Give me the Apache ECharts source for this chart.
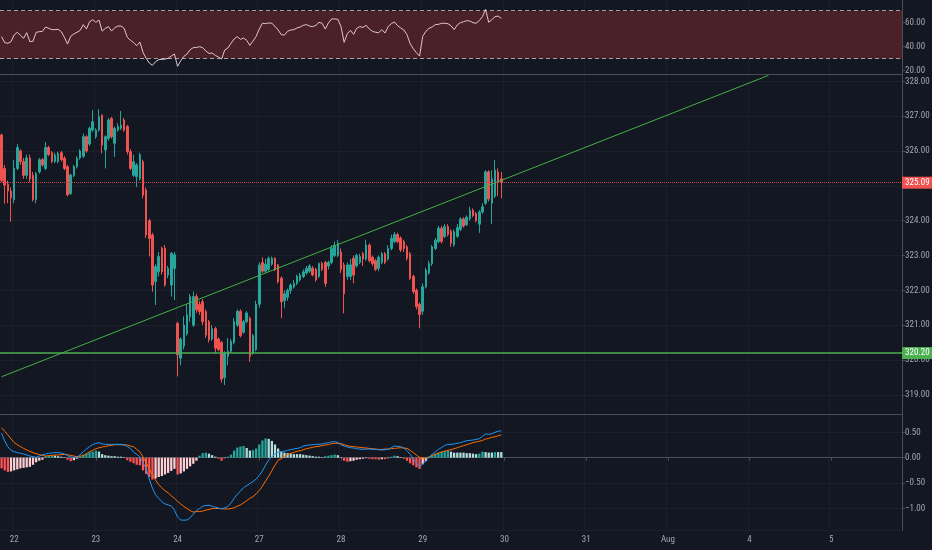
<!DOCTYPE html>
<html><head><meta charset="utf-8">
<script src="https://cdn.jsdelivr.net/npm/echarts@6/dist/echarts.min.js"></script>
<style>html,body{margin:0;padding:0;background:#131722}#c{width:932px;height:550px}</style>
</head><body><div id="c"></div>
<script>
// ---------- DATA ----------
const SLOT_COUNT = 287;
const dayStarts = [4, 30, 56, 82, 108, 134, 160, 186, 212, 238, 264];
const dayLabels = ['22', '23', '24', '27', '28', '29', '30', '31', 'Aug', '4', '5'];

const opens = [
326.46,325.50,325.05,324.85,324.60,325.50,326.00,325.70,325.30,325.80,
325.30,324.60,325.40,325.75,325.50,326.10,325.95,325.70,325.70,325.95,
325.79,325.55,324.78,325.30,325.55,325.80,325.85,326.41,326.20,326.60,
326.41,326.60,327.03,326.03,326.36,326.93,326.22,326.60,326.65,326.89,
326.70,325.98,325.30,325.26,325.20,325.69,324.88,324.00,323.59,322.25,
322.53,323.21,323.21,322.44,322.15,322.63,321.05,320.05,320.40,320.75,
321.24,321.00,321.82,321.60,321.67,321.39,321.10,320.60,320.90,320.60,
320.50,319.50,320.10,320.25,320.50,321.00,321.40,320.80,321.10,321.20,
320.20,320.30,321.60,322.80,322.55,322.60,322.75,322.92,322.73,322.35,
321.70,321.80,322.00,322.10,322.20,322.30,322.40,322.50,322.55,322.63,
322.60,322.40,322.77,322.80,322.70,322.80,323.00,323.00,323.10,322.73,
322.40,322.40,322.92,322.70,322.80,323.05,322.90,323.30,322.95,322.85,
322.63,322.80,323.05,322.90,323.20,323.40,323.60,323.50,323.40,323.25,
323.05,322.40,322.00,321.60,321.40,322.10,322.50,322.77,323.20,323.40,
323.78,323.54,323.83,323.70,323.30,323.55,323.75,324.05,323.88,324.05,
324.30,324.20,323.90,324.25,324.50,325.40,324.50,324.70,325.40,325.20];
const closes = [
325.15,325.02,324.85,324.65,325.50,326.10,325.70,325.30,325.80,325.20,
324.60,325.35,325.75,325.60,326.10,325.90,325.70,325.88,325.93,325.75,
325.50,324.74,325.31,325.55,325.79,326.00,326.41,326.00,326.65,326.84,
326.60,326.98,326.17,326.41,326.89,326.41,326.65,326.70,326.74,326.60,
325.98,325.50,325.69,325.60,325.89,324.73,323.59,323.49,322.15,322.68,
322.97,322.53,322.15,322.63,323.06,323.02,320.15,320.60,321.00,321.30,
321.82,321.82,321.44,321.39,321.10,320.72,320.58,320.90,320.34,320.30,
319.45,320.20,320.25,320.53,321.10,321.40,320.70,321.10,321.35,320.10,
320.70,321.60,322.73,322.55,322.75,322.92,322.92,322.60,322.25,321.67,
321.90,322.00,322.15,322.20,322.40,322.44,322.53,322.63,322.70,322.44,
322.30,322.77,322.60,322.20,322.80,323.20,323.30,323.35,322.60,321.90,
322.73,322.73,322.44,323.00,322.97,322.90,323.30,322.85,322.77,322.60,
322.95,323.05,322.80,323.20,323.49,323.60,323.40,323.16,323.20,322.92,
322.34,321.96,321.53,321.30,322.10,322.58,322.77,323.25,323.44,323.78,
323.40,323.83,323.60,323.35,323.68,323.80,324.05,323.85,324.10,324.30,
324.15,324.00,324.25,324.40,325.40,324.62,325.20,325.45,325.10,325.09];
const lows = [
325.10,324.49,324.50,323.97,324.50,325.45,325.60,325.20,325.20,325.10,
324.55,324.50,325.35,325.55,325.45,325.85,325.65,325.65,325.65,325.70,
325.45,324.70,324.74,325.25,325.50,325.75,325.80,325.95,326.15,326.55,
326.35,326.55,325.93,325.50,326.30,326.36,325.83,326.55,326.60,326.55,
325.90,325.45,325.26,324.97,325.15,324.64,323.50,322.97,321.96,321.58,
322.40,322.45,322.10,322.35,321.82,321.72,319.53,319.85,320.30,320.70,
321.10,320.95,321.35,321.30,321.00,320.63,320.50,320.55,320.20,320.25,
319.35,319.28,319.85,320.20,320.45,320.95,320.65,320.75,321.05,319.95,
320.15,320.25,321.50,322.50,322.50,322.55,322.70,322.55,322.20,321.20,
321.50,321.70,321.90,322.05,322.15,322.25,322.35,322.45,322.50,322.40,
322.25,322.35,322.55,322.10,322.60,322.75,322.95,322.95,322.50,321.34,
322.30,322.30,322.20,322.65,322.75,322.70,322.85,322.80,322.70,322.55,
322.55,322.75,322.75,322.85,323.15,323.35,323.35,323.10,323.10,322.85,
322.30,321.90,321.45,320.91,321.30,322.05,322.45,322.70,323.15,323.35,
323.35,323.50,323.55,323.25,323.25,323.50,323.70,323.80,323.85,324.00,
324.10,323.95,323.65,324.20,324.45,324.55,323.90,324.65,324.70,324.64];
const highs = [
326.50,325.60,325.15,324.95,325.74,326.20,326.05,325.80,325.90,325.90,
325.40,325.40,325.80,325.80,326.26,326.15,326.00,325.95,325.98,326.00,
325.85,325.60,325.35,325.60,325.85,326.05,326.50,326.45,326.70,327.17,
326.65,327.20,327.05,326.45,326.95,326.98,326.70,326.80,327.15,326.95,
326.75,326.05,325.89,325.65,325.95,325.75,324.95,324.05,323.65,322.75,
323.10,323.25,323.30,322.70,323.10,323.10,321.10,320.65,321.25,321.60,
321.90,321.96,321.90,321.70,321.75,321.45,321.15,321.00,320.95,320.65,
320.55,320.25,320.63,320.60,321.20,321.45,321.45,321.15,321.40,321.25,
320.75,321.70,322.80,322.95,322.90,322.97,322.97,322.95,322.75,322.40,
322.00,322.05,322.20,322.30,322.45,322.50,322.60,322.70,322.75,322.70,
322.65,322.80,322.82,322.85,322.85,323.30,323.40,323.45,323.20,322.80,
322.80,322.90,323.00,323.05,323.05,323.10,323.45,323.35,323.00,322.90,
323.00,323.10,323.10,323.30,323.60,323.68,323.65,323.55,323.45,323.30,
323.10,322.45,322.05,321.65,322.20,322.65,322.85,323.30,323.50,323.85,
323.85,323.90,323.90,323.75,323.75,323.90,324.10,324.10,324.15,324.40,
324.35,324.25,324.30,324.50,325.45,325.45,325.45,325.74,325.50,325.40];

const rsi = [
48.4,43.4,42.8,44.2,49.8,52.0,49.5,47.0,51.7,44.2,
44.5,52.0,52.5,52.8,56.4,55.3,54.2,54.2,54.5,52.5,
47.8,42.2,48.6,50.6,52.0,53.6,58.4,54.7,60.8,62.5,
60.3,62.2,53.0,55.3,56.7,53.0,55.8,57.2,57.2,55.3,
47.8,45.3,43.4,40.8,43.9,35.3,30.3,26.4,24.5,27.5,
29.2,29.4,29.7,30.3,32.2,33.9,23.6,28.3,31.9,33.9,
37.5,39.2,39.4,40.0,39.2,36.4,34.4,34.7,32.8,31.4,
29.7,37.2,38.9,42.8,46.4,48.4,46.1,47.2,45.3,41.1,
44.7,48.6,54.7,59.5,59.2,59.8,59.5,57.0,53.9,50.0,
49.7,52.8,53.9,54.2,55.6,56.4,57.8,58.4,57.2,56.7,
57.8,60.3,59.5,54.7,59.8,63.1,63.1,62.8,56.7,43.6,
50.8,53.6,50.3,55.3,56.7,56.1,57.8,54.7,52.8,52.0,
51.7,54.2,51.4,56.7,59.2,60.6,57.5,55.6,53.9,50.0,
42.5,38.3,35.0,32.2,48.6,52.8,55.3,56.4,58.4,58.6,
59.5,59.5,59.2,57.5,54.2,58.1,60.0,60.8,61.7,61.4,
60.0,59.5,61.7,65.0,71.0,60.3,62.5,65.0,65.5,63.6];

const macd = [
0.48,0.33,0.217,0.145,0.118,0.10,0.086,0.073,0.053,0.033,
0.02,0.007,0.033,0.06,0.073,0.086,0.092,0.10,0.10,0.092,
0.073,0.04,0.013,0.007,0.007,0.06,0.118,0.17,0.22,0.256,
0.283,0.296,0.27,0.263,0.263,0.263,0.263,0.263,0.263,0.256,
0.22,0.18,0.11,0.066,0.02,-0.10,-0.22,-0.42,-0.60,-0.73,
-0.80,-0.865,-0.91,-0.93,-0.95,-1.03,-1.17,-1.226,-1.23,-1.226,
-1.18,-1.11,-1.04,-1.0,-0.955,-0.94,-0.935,-0.955,-0.975,-0.99,
-1.01,-0.985,-0.96,-0.89,-0.80,-0.72,-0.66,-0.59,-0.55,-0.51,
-0.47,-0.42,-0.35,-0.26,-0.145,-0.045,0.02,0.073,0.105,0.118,
0.13,0.145,0.16,0.17,0.183,0.196,0.23,0.243,0.25,0.256,
0.263,0.263,0.27,0.283,0.296,0.31,0.316,0.30,0.256,0.23,
0.21,0.196,0.19,0.177,0.17,0.163,0.17,0.17,0.163,0.163,
0.157,0.15,0.157,0.163,0.196,0.23,0.223,0.217,0.19,0.137,
0.066,-0.02,-0.105,-0.18,-0.125,-0.06,0.007,0.066,0.118,0.163,
0.20,0.243,0.263,0.263,0.27,0.283,0.296,0.316,0.335,0.34,
0.348,0.36,0.374,0.42,0.466,0.46,0.47,0.50,0.52,0.53];
const signal = [
0.59,0.52,0.45,0.37,0.30,0.256,0.217,0.183,0.152,0.125,
0.098,0.079,0.06,0.046,0.033,0.04,0.046,0.053,0.053,0.06,
0.066,0.06,0.046,0.033,0.02,0.033,0.04,0.079,0.118,0.145,
0.177,0.196,0.21,0.22,0.237,0.243,0.256,0.256,0.256,0.25,
0.25,0.23,0.217,0.163,0.118,0.013,-0.10,-0.22,-0.34,-0.44,
-0.53,-0.59,-0.65,-0.69,-0.75,-0.80,-0.86,-0.91,-0.96,-1.0,
-1.04,-1.07,-1.06,-1.06,-1.05,-1.03,-1.02,-1.0,-1.0,-1.0,
-1.0,-1.01,-1.01,-1.0,-0.985,-0.955,-0.93,-0.89,-0.845,-0.80,
-0.765,-0.71,-0.645,-0.56,-0.46,-0.365,-0.255,-0.145,-0.05,-0.02,
0.026,0.06,0.086,0.105,0.125,0.137,0.157,0.177,0.19,0.203,
0.217,0.223,0.237,0.25,0.256,0.276,0.283,0.283,0.276,0.256,
0.237,0.223,0.217,0.21,0.203,0.196,0.19,0.183,0.177,0.17,
0.163,0.163,0.17,0.17,0.177,0.183,0.19,0.196,0.19,0.183,
0.145,0.098,0.053,0.007,-0.007,-0.013,0.013,0.046,0.066,0.092,
0.111,0.13,0.145,0.157,0.177,0.196,0.217,0.237,0.256,0.276,
0.296,0.31,0.322,0.34,0.367,0.38,0.40,0.413,0.43,0.45];
const hist = [
-0.21,-0.25,-0.28,-0.27,-0.25,-0.23,-0.21,-0.20,-0.19,-0.18,
-0.14,-0.09,-0.06,-0.04,0.03,0.04,0.05,0.04,0.03,0.02,
0.01,-0.04,-0.07,-0.05,-0.02,0.03,0.06,0.08,0.11,0.12,
0.14,0.12,0.07,0.05,0.04,0.03,0.03,0.02,0.02,0.01,
-0.05,-0.08,-0.11,-0.14,-0.15,-0.25,-0.32,-0.38,-0.43,-0.41,
-0.38,-0.36,-0.33,-0.30,-0.26,-0.22,-0.33,-0.31,-0.27,-0.22,
-0.17,-0.12,-0.06,0.04,0.09,0.10,0.08,0.05,0.02,-0.02,
-0.06,-0.01,0.02,0.06,0.14,0.20,0.22,0.23,0.19,0.14,
0.15,0.18,0.26,0.34,0.38,0.37,0.33,0.26,0.18,0.12,
0.10,0.09,0.08,0.07,0.07,0.07,0.06,0.05,0.04,0.03,
0.02,0.02,0.01,0.03,0.04,0.05,0.06,0.05,0.01,-0.06,
-0.08,-0.07,-0.06,-0.04,-0.03,-0.02,-0.01,-0.02,-0.03,-0.03,
-0.04,-0.03,-0.03,-0.01,0.02,0.04,0.03,0.01,-0.02,-0.06,
-0.11,-0.15,-0.19,-0.22,-0.13,-0.07,0.02,0.05,0.08,0.10,
0.12,0.13,0.14,0.12,0.10,0.10,0.10,0.10,0.09,0.09,
0.08,0.07,0.08,0.12,0.11,0.10,0.10,0.11,0.11,0.11];

const lastPrice = 325.09;
const supportLevel = 320.20;
const trendStart = [0, 319.52];
const trendEnd = [244, 328.17];
const rsiUpper = 70;
const rsiLower = 30;

// ---------- CHART ----------
const categories = Array.from({length: SLOT_COUNT}, (_, i) => 's' + i);
const dayLabelAt = {};
dayStarts.forEach((s, i) => { dayLabelAt[s] = dayLabels[i]; });
const isDay = (i) => dayLabelAt[i] !== undefined;

const FONT = "'Liberation Sans Narrow', 'Roboto Condensed', Roboto, 'DejaVu Sans', sans-serif";
const LABEL_COLOR = '#a3a6af';
const AXIS_LINE = '#4a4d57';
const GRID_LINE = '#1b1f2b';
const UP = '#26a69a', DOWN = '#ef5350';

function xAxisFor(gridIndex, showLabels) {
  return {
    type: 'category', gridIndex, data: categories, boundaryGap: true,
    axisLine: { show: true, lineStyle: { color: AXIS_LINE, width: 1 } },
    axisTick: { show: showLabels, alignWithLabel: true, interval: (i) => isDay(i), length: 3, lineStyle: { color: AXIS_LINE } },
    axisLabel: { show: showLabels, interval: (i) => isDay(i), formatter: (v, i) => dayLabelAt[i] || '',
      color: LABEL_COLOR, fontSize: 9, fontFamily: FONT, margin: 5 },
    splitLine: { show: true, interval: (i) => isDay(i), lineStyle: { color: GRID_LINE, width: 1 } }
  };
}
function yAxisFor(gridIndex, min, max, step, showSplit) {
  return {
    type: 'value', gridIndex, position: 'right', min, max, minInterval: step, maxInterval: step,
    axisLine: { show: true, lineStyle: { color: AXIS_LINE } },
    axisTick: { show: true, length: 3, lineStyle: { color: AXIS_LINE } },
    axisLabel: { color: LABEL_COLOR, fontSize: 9, fontFamily: FONT, margin: 3,
      showMinLabel: false, showMaxLabel: false,
      formatter: (v) => v.toFixed(2).replace('-', '\u2212') },
    splitLine: { show: showSplit, lineStyle: { color: GRID_LINE } }
  };
}

const candleData = opens.map((o, i) => [o, closes[i], lows[i], highs[i]]);
const histData = hist.map((h, i) => {
  const prev = i > 0 ? hist[i - 1] : h;
  let c;
  if (h >= 0) c = prev < h ? '#26a69a' : '#b2dfdb';
  else c = prev < h ? '#ffcdd2' : '#ff5252';
  return { value: h, itemStyle: { color: c } };
});

const chart = echarts.init(document.getElementById('c'), null, { renderer: 'canvas' });
chart.setOption({
  backgroundColor: '#131722',
  animation: false,
  grid: [
    { left: 0, right: 30, top: 0, height: 74, outerBoundsMode: 'none' },
    { left: 0, right: 30, top: 74, height: 340, outerBoundsMode: 'none' },
    { left: 0, right: 30, top: 414, height: 116, outerBoundsMode: 'none' }
  ],
  xAxis: [xAxisFor(0, false), xAxisFor(1, false), xAxisFor(2, true)],
  yAxis: [
    yAxisFor(0, 17.25, 78.9, 20, false),
    yAxisFor(1, 318.45, 328.21, 1, true),
    yAxisFor(2, -1.423, 0.86, 0.5, true)
  ],
  series: [
    {
      name: 'RSI', type: 'line', xAxisIndex: 0, yAxisIndex: 0, data: rsi,
      showSymbol: false, silent: true, z: 5,
      lineStyle: { color: '#dcc8cc', width: 1 },
      markArea: { silent: true, itemStyle: { color: '#4b2128' }, label: { show: false },
        data: [[{ yAxis: rsiLower }, { yAxis: rsiUpper }]] },
      markLine: { silent: true, symbol: 'none', label: { show: false },
        lineStyle: { color: '#9fa1a8', type: [4, 3], width: 1 },
        data: [{ yAxis: rsiUpper }, { yAxis: rsiLower }] }
    },
    {
      name: 'Price', type: 'candlestick', xAxisIndex: 1, yAxisIndex: 1, data: candleData,
      barWidth: '68%', silent: true,
      itemStyle: { color: UP, color0: DOWN, borderColor: UP, borderColor0: DOWN, borderWidth: 1 },
      markLine: {
        silent: true, symbol: 'none', z: 20,
        data: [
          { yAxis: lastPrice, lineStyle: { color: '#c4474d', type: 'dotted', width: 1 },
            label: { show: true, position: 'end', formatter: (p) => p.value.toFixed(2), color: '#ffffff',
              backgroundColor: '#ef5350', padding: [2, 3, 1, 3], fontSize: 9, fontFamily: FONT, distance: 0 } },
          { yAxis: supportLevel, lineStyle: { color: '#4caf50', type: 'solid', width: 1.5 },
            label: { show: true, position: 'end', formatter: (p) => p.value.toFixed(2), color: '#ffffff',
              backgroundColor: '#4caf50', padding: [2, 3, 1, 3], fontSize: 9, fontFamily: FONT, distance: 0 } }
        ]
      }
    },
    {
      name: 'Trend', type: 'line', xAxisIndex: 1, yAxisIndex: 1, data: [trendStart, trendEnd],
      showSymbol: false, silent: true, z: 6,
      lineStyle: { color: '#43b043', width: 1 }
    },
    {
      name: 'Histogram', type: 'bar', xAxisIndex: 2, yAxisIndex: 2, data: histData,
      barWidth: '72%', silent: true
    },
    {
      name: 'MACD', type: 'line', xAxisIndex: 2, yAxisIndex: 2, data: macd,
      showSymbol: false, silent: true, lineStyle: { color: '#2196f3', width: 1 }, z: 5
    },
    {
      name: 'Signal', type: 'line', xAxisIndex: 2, yAxisIndex: 2, data: signal,
      showSymbol: false, silent: true, lineStyle: { color: '#ff6d00', width: 1 }, z: 4
    }
  ]
});
</script></body></html>
